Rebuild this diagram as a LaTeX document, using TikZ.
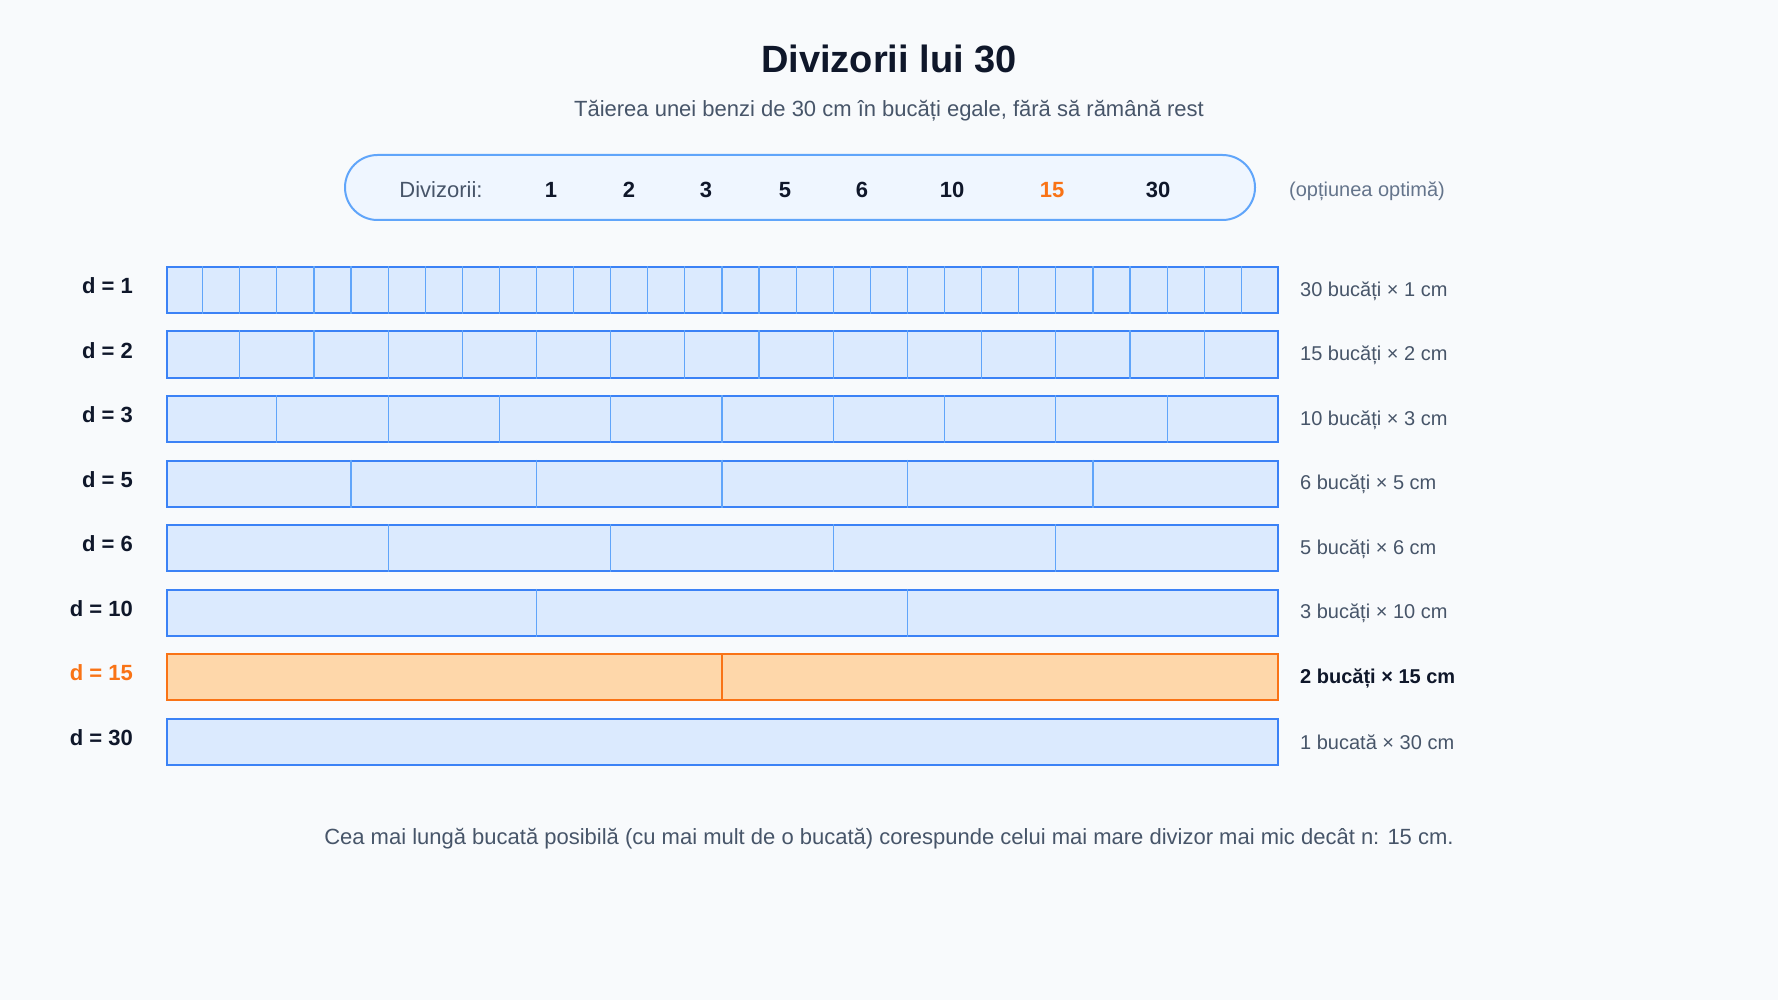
\documentclass[tikz,border=0pt]{standalone}
\usepackage{fontspec}
\setmainfont{Liberation Sans}
\usetikzlibrary{calc}
\definecolor{bg}{HTML}{F8FAFC}
\definecolor{ink}{HTML}{0F172A}
\definecolor{sub}{HTML}{475569}
\definecolor{muted}{HTML}{64748B}
\definecolor{barfill}{HTML}{DBEAFE}
\definecolor{barline}{HTML}{3B82F6}
\definecolor{divline}{HTML}{60A5FA}
\definecolor{pillfill}{HTML}{EFF6FF}
\definecolor{orfill}{HTML}{FED7AA}
\definecolor{orline}{HTML}{F97316}
\tikzset{
  title/.style={font=\fontsize{38}{45}\selectfont\bfseries, text=ink, inner sep=0},
  subtitle/.style={font=\fontsize{22}{26}\selectfont, text=sub, inner sep=0},
  pill/.style={draw=divline, fill=pillfill, line width=2pt, rounded corners=32.5pt, minimum width=910pt, minimum height=65pt, inner sep=0},
  pilltxt/.style={font=\fontsize{22}{26}\selectfont, text=sub, inner sep=0},
  divnum/.style={font=\fontsize{22}{26}\selectfont\bfseries, text=ink, inner sep=0},
  note/.style={font=\fontsize{20}{24}\selectfont, text=muted, inner sep=0},
  bar/.style={draw=barline, fill=barfill, line width=2pt, minimum width=1111pt, minimum height=46pt, inner sep=0},
  hbar/.style={draw=orline, fill=orfill, line width=2pt, minimum width=1111pt, minimum height=46pt, inner sep=0},
  divl/.style={draw=divline, line width=1.2pt},
  hdivl/.style={draw=orline, line width=1.2pt},
  dlab/.style={font=\fontsize{22}{26}\selectfont\bfseries, text=ink, inner sep=0, anchor=east},
  rlab/.style={font=\fontsize{20}{24}\selectfont, text=sub, inner sep=0, anchor=west},
  foot/.style={font=\fontsize{22}{26}\selectfont, text=sub, inner sep=0},
}
\begin{document}
\begin{tikzpicture}[x=1pt,y=-1pt]
\useasboundingbox[fill=bg] (0,0) rectangle (1778,1000);

\node[title] (title) at (889,59) {Divizorii lui 30};
\node[subtitle] (subtitle) at (889,111) {Tăierea unei benzi de 30 cm în bucăți egale, fără să rămână rest};

\node[pill] (pill) at (800,187.5) {};
\node[pilltxt] (plab) at (441,190) {Divizorii:};
\node[divnum] (n1) at (551,190) {1};
\node[divnum] (n2) at (629,190) {2};
\node[divnum] (n3) at (706,190) {3};
\node[divnum] (n5) at (785,190) {5};
\node[divnum] (n6) at (862,190) {6};
\node[divnum] (n10) at (952,190) {10};
\node[divnum, text=orline] (n15) at (1052,190) {15};
\node[divnum] (n30) at (1158,190) {30};
\node[note] (opt) at (1367,191.5) {(opțiunea optimă)};

\foreach \d/\n/\lab [count=\i from 0] in {1/30/{30 bucăți × 1 cm},2/15/{15 bucăți × 2 cm},3/10/{10 bucăți × 3 cm},5/6/{6 bucăți × 5 cm},6/5/{5 bucăți × 6 cm},10/3/{3 bucăți × 10 cm}}{
  \node[bar] (bar\i) at (722,{290+64.5*\i}) {};
  \pgfmathtruncatemacro{\m}{\n-1}
  \foreach \k in {1,...,\m}{
    \draw[divl] ($(bar\i.north west)!{\k/\n}!(bar\i.north east)$) -- ($(bar\i.south west)!{\k/\n}!(bar\i.south east)$);
  }
  \node[dlab] (dl\i) at (133,{286+64.5*\i}) {d = \d};
  \node[rlab] (rl\i) at (1300,{291+64.5*\i}) {\lab};
}

\node[hbar] (bar6) at (722,{290+64.5*6}) {};
\draw[hdivl] (bar6.north) -- (bar6.south);
\node[dlab, text=orline] (dl6) at (133,{286+64.5*6}) {d = 15};
\node[rlab, text=ink, font=\fontsize{20}{24}\selectfont\bfseries] (rl6) at (1300,{291+64.5*6}) {2 bucăți × 15 cm};

\node[bar] (bar7) at (722,{290+64.5*7}) {};
\node[dlab] (dl7) at (133,{286+64.5*7}) {d = 30};
\node[rlab] (rl7) at (1300,{291+64.5*7}) {1 bucată × 30 cm};

\node[foot] (foot) at (889,839) {Cea mai lungă bucată posibilă (cu mai mult de o bucată) corespunde celui mai mare divizor mai mic decât n: 15 cm.};
\end{tikzpicture}
\end{document}
